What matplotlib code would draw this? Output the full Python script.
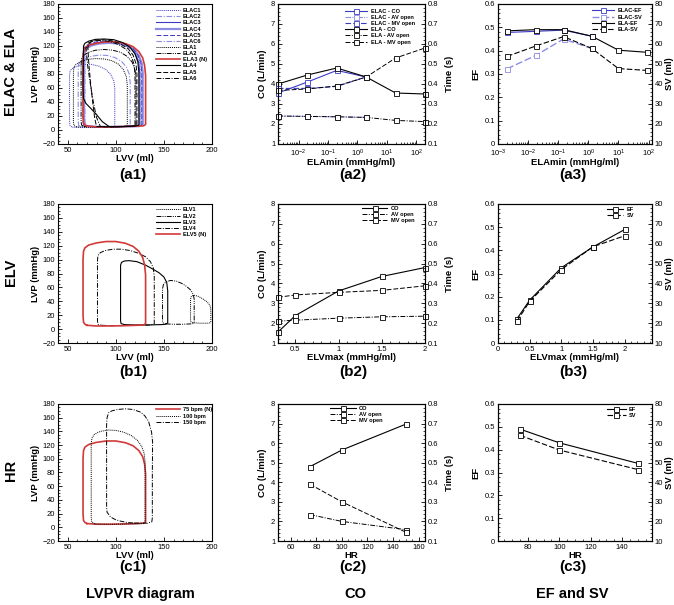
import matplotlib
matplotlib.use("Agg")
import matplotlib.pyplot as plt
from matplotlib.ticker import MultipleLocator, LogLocator, NullFormatter, FuncFormatter

plt.rcParams["font.family"] = ["Liberation Sans", "DejaVu Sans"]
plt.rcParams["mathtext.default"] = "regular"
plt.rcParams["axes.linewidth"] = 0.8
for a in ["xtick", "ytick"]:
    plt.rcParams[a + ".direction"] = "in"
    plt.rcParams[a + ".major.size"] = 3
    plt.rcParams[a + ".minor.size"] = 1.5
    plt.rcParams[a + ".major.width"] = 0.6
    plt.rcParams[a + ".minor.width"] = 0.5
    plt.rcParams[a + ".labelsize"] = 5.5
    plt.rcParams[a + ".major.pad"] = 2

BLUE = "#3a3ac4"
LBLUE = "#8c8ce4"
RED = "#d23a3a"
DOT = (0, (1, 1))
DASH = (0, (5, 2))
DASHDOT = (0, (5, 1.5, 1, 1.5))
DASHDOTDOT = (0, (5, 1.2, 1, 1.2, 1, 1.2))

# ---------------- PV loops (LVV ml, LVP mmHg) ----------------
normal_v = [70, 80, 95, 110, 122, 129, 131, 131, 131, 130, 128, 124, 118, 110, 100, 90, 80, 72, 68, 66.5, 66, 66, 66.5, 68, 70]
normal_p = [5.5, 4.5, 4.5, 5, 5.5, 6, 8, 40, 78, 92, 103, 112, 119, 123.5, 126, 126, 124, 121, 117, 112, 100, 20, 10, 7, 5.5]

elac1_v = [55, 65, 80, 92, 97, 99, 99, 99, 98, 95, 90, 83, 74, 65, 58, 54, 52.5, 52, 52, 52.5, 55]
elac1_p = [4, 3.5, 3.5, 4, 4.5, 6, 30, 60, 70, 79, 86, 91, 94, 93, 90, 87, 84, 78, 12, 6, 4]
elac2_v = [64, 75, 90, 105, 112, 115, 115, 115, 114, 111, 106, 99, 91, 83, 75, 68, 63, 61.5, 61, 61, 61.5, 64]
elac2_p = [4.5, 4, 4, 4.5, 5, 7, 30, 68, 80, 90, 98, 103.5, 106.5, 107, 105.5, 102, 98, 94, 85, 12, 6.5, 4.5]
elac3_v = [71, 80, 95, 110, 121, 125, 125, 125, 124, 121, 116, 108, 99, 90, 81, 74, 69, 67.5, 67, 67, 67.5, 71]
elac3_p = [5.5, 4.5, 4.5, 5, 5.5, 7, 30, 82, 96, 107, 116, 122, 125, 126, 125, 122, 118, 114, 105, 12, 7, 5.5]
elac4_v = [71, 80, 95, 110, 124, 128, 128, 128, 127, 124, 119, 111, 102, 93, 83, 75, 70, 67.5, 67, 67, 67.5, 71]
elac4_p = [5.5, 4.5, 4.5, 5, 5.5, 7, 30, 82, 95, 106, 115, 121, 123.5, 124.5, 123.5, 121, 117, 113, 104, 12, 7, 5.5]
elac5_v = [70, 80, 95, 110, 123, 127, 127, 127, 126, 123, 118, 110, 100, 90, 80, 73, 68, 66.5, 66, 66, 66.5, 70]
elac5_p = [5.5, 4.5, 4.5, 5, 5.5, 7, 30, 82, 96, 107, 116, 122.5, 126, 127, 126, 123, 119, 115, 106, 12, 7, 5.5]
elac6_v = [72, 80, 95, 110, 122, 126, 126, 126, 125, 122, 117, 109, 100, 91, 82, 75, 70, 68.5, 68, 68, 68.5, 72]
elac6_p = [5.5, 4.5, 4.5, 5, 5.5, 7, 30, 82, 96, 107, 116, 122, 125, 126, 125, 122, 118, 114, 105, 12, 7, 5.5]
ela1_v = [59, 70, 85, 100, 109, 112, 112, 112, 111, 108, 103, 96, 88, 79, 71, 64, 59, 56.5, 56, 56, 56.5, 59]
ela1_p = [4.5, 4, 4, 4.5, 5, 7, 30, 64, 76, 86, 94, 99, 101.5, 102, 101, 98, 94, 90, 82, 12, 6.5, 4.5]
ela2_v = [67, 80, 95, 110, 118, 121, 121, 121, 120, 117, 112, 105, 97, 88, 79, 72, 67, 64.5, 64, 64, 64.5, 67]
ela2_p = [5, 4.5, 4.5, 5, 5.5, 7, 30, 72, 86, 97, 105, 111, 114, 115, 114, 111, 107, 103, 94, 12, 7, 5]
ela4_v = [93, 100, 110, 120, 124, 124, 124, 123, 120, 115, 107, 98, 88, 79, 72, 68, 66.5, 66, 66.5, 69, 74, 80, 86, 93]
ela4_p = [5, 4.5, 5, 5.5, 7, 30, 82, 97, 109, 118, 125, 129, 130, 129.5, 127, 124, 120, 60, 45, 38, 31, 22, 12, 5]
ela5_v = [80, 90, 105, 118, 122, 122, 122, 121, 118, 113, 105, 96, 86, 78, 73, 71, 72, 74, 76, 78, 80]
ela5_p = [5, 4.5, 5, 5.5, 7, 30, 80, 95, 107, 116, 123, 127.5, 129, 128, 125, 118, 95, 65, 40, 18, 5]
ela6_v = [84, 95, 108, 117, 120, 120, 120, 119, 116, 111, 103, 94, 84, 76, 71, 69, 71, 74, 77, 80, 84]
ela6_p = [5, 4.5, 5, 5.5, 7, 30, 80, 94, 106, 115, 122, 126.5, 128, 127, 124, 117, 90, 62, 38, 18, 5]

elv1_v = [181, 188, 195, 198, 198.8, 198.8, 198.5, 197.5, 195, 191, 186, 181, 178.5, 177.7, 177.7, 178, 181]
elv1_p = [9, 8.5, 8.5, 9, 11, 25, 31, 35, 39, 43, 47, 49, 47, 43, 14, 10.5, 9]
elv2_v = [152, 160, 170, 178, 180.5, 181.5, 181.5, 181.5, 180.5, 178, 174, 169, 163, 157, 152, 149.5, 148.6, 148.6, 149, 152]
elv2_p = [7.5, 7, 7, 7.5, 8, 10, 30, 43, 50, 56, 61, 65.5, 69, 70, 68, 64, 58, 12, 9, 7.5]
elv3_v = [109, 120, 135, 148, 152, 154, 154, 154, 153, 150, 145, 139, 131, 122, 114, 109, 106, 105, 105, 105.5, 109]
elv3_p = [6.5, 6, 6, 6.5, 7, 9, 30, 55, 67, 75, 81, 86, 92, 97, 98.5, 98, 96, 92, 12, 8, 6.5]
elv4_v = [85, 95, 110, 125, 137, 140, 140, 140, 139, 136, 131, 124, 115, 106, 97, 89, 84, 81.5, 81, 81, 81.5, 85]
elv4_p = [5.5, 5, 5, 5.5, 6, 7.5, 30, 76, 88, 97, 104, 109, 113, 115, 115, 113, 110, 106, 98, 12, 7, 5.5]

hr100_v = [78, 90, 105, 120, 128, 130.5, 130.5, 130.5, 129.5, 127, 122.5, 116, 108, 100, 92, 84, 78, 75.5, 74.5, 74.5, 75, 78]
hr100_p = [5, 4.5, 4.5, 5, 5.5, 7, 40, 95, 108, 118, 127, 134, 139, 141.5, 142, 140, 136, 131, 123, 14, 8, 5]
hr150_v = [119, 133, 137.5, 138, 138, 138.3, 137.2, 134, 130, 126, 118, 110, 102, 96, 92.5, 91, 90.5, 90.5, 91, 94.6, 100, 105, 112, 119]
hr150_p = [6.2, 6, 8, 14, 80, 124, 139, 155, 163, 168, 172, 173, 172, 170, 167, 160, 150, 30, 22, 15, 11, 9, 7, 6.2]

# ---------------- line charts ----------------
ela_x = [0.002, 0.02, 0.2, 2, 20, 200]
elac_x = [0.002, 0.02, 0.2, 2]
ela_co = [4.0, 4.45, 4.8, 4.35, 3.55, 3.5]
ela_av = [0.24, 0.238, 0.236, 0.233, 0.218, 0.212]
ela_mv = [0.368, 0.375, 0.39, 0.435, 0.53, 0.58]
elac_co = [3.55, 4.1, 4.68, 4.35]
elac_av = [0.24, 0.238, 0.236, 0.233]
elac_mv = [0.378, 0.378, 0.388, 0.435]

# (a3) points sit at these positions on its own log axis
ela_x3 = [0.002, 0.018, 0.15, 1.3, 10, 90]
elac_x3 = [0.002, 0.018, 0.15, 1.3]
ela_ef = [0.485, 0.49, 0.49, 0.462, 0.402, 0.393]
ela_sv = [53.8, 59.0, 63.7, 57.8, 47.7, 46.8]
elac_ef = [0.478, 0.483, 0.488, 0.462]
elac_sv = [47.6, 54.3, 62.5, 57.8]

elv_x = [0.3, 0.5, 1, 1.5, 2]
elv_co = [1.55, 2.38, 3.62, 4.35, 4.8]
elv_av = [0.21, 0.215, 0.225, 0.232, 0.235]
elv_mv = [0.33, 0.342, 0.355, 0.365, 0.388]
elv_ef = [0.105, 0.185, 0.325, 0.415, 0.49]
elv_sv = [21, 31, 47, 58.5, 64]

hr_x = [75, 100, 150]
hr_co = [4.8, 5.65, 6.97]
hr_av = [0.235, 0.2, 0.158]
hr_mv = [0.39, 0.30, 0.145]
hr_ef = [0.49, 0.43, 0.34]
hr_sv = [64, 56.5, 46.5]

fig = plt.figure(figsize=(6.74, 6.05), dpi=100)
W, H = 674.0, 605.0
cols = [(58, 212), (278, 425), (498, 652)]
rows = [(4, 144), (204, 343), (404, 541)]

gfmt = FuncFormatter(lambda v, pos: "%g" % round(v, 6))


def make_ax(c, r):
    (x0, x1), (y0, y1) = cols[c], rows[r]
    return fig.add_axes([x0 / W, 1 - y1 / H, (x1 - x0) / W, (y1 - y0) / H])


lab = dict(fontsize=6.8, fontweight="bold")
mk = dict(marker="s", markersize=3.6, markerfacecolor="white", markeredgewidth=0.6, clip_on=False)
leg_kw = dict(frameon=False, labelspacing=0.2, borderpad=0, handletextpad=0.6,
              borderaxespad=0, prop={"weight": "bold", "size": 4.1})


def pv_axes(ax):
    ax.set_xlim(40, 200)
    ax.set_ylim(-20, 180)
    ax.xaxis.set_major_locator(MultipleLocator(50))
    ax.xaxis.set_minor_locator(MultipleLocator(10))
    ax.yaxis.set_major_locator(MultipleLocator(20))
    ax.yaxis.set_minor_locator(MultipleLocator(5))
    ax.set_xlabel("LVV (ml)", labelpad=0, **lab)
    ax.set_ylabel("LVP (mmHg)", labelpad=2, **lab)


# (a1)
ax = make_ax(0, 0)
pv_axes(ax)
loops = [
    (elac1_v, elac1_p, "ELAC1", BLUE, DOT, 0.7),
    (elac2_v, elac2_p, "ELAC2", LBLUE, DASHDOT, 0.8),
    (elac3_v, elac3_p, "ELAC3", BLUE, "-", 0.8),
    (elac4_v, elac4_p, "ELAC4", LBLUE, "-", 1.6),
    (elac5_v, elac5_p, "ELAC5", BLUE, DASH, 0.7),
    (elac6_v, elac6_p, "ELAC6", LBLUE, DASHDOT, 0.8),
    (ela1_v, ela1_p, "ELA1", "black", DOT, 0.7),
    (ela2_v, ela2_p, "ELA2", "black", DASHDOTDOT, 0.7),
    (normal_v, normal_p, "ELA3 (N)", RED, "-", 1.2),
    (ela4_v, ela4_p, "ELA4", "black", "-", 0.8),
    (ela5_v, ela5_p, "ELA5", "black", DASH, 0.7),
    (ela6_v, ela6_p, "ELA6", "black", DASHDOT, 0.7),
]
for v, p, name, col, ls, lw in loops:
    ax.plot(v, p, color=col, ls=ls, lw=lw, label=name)
ax.legend(loc="upper left", bbox_to_anchor=(0.635, 0.97), handlelength=4.2, **leg_kw)

# (b1)
ax = make_ax(0, 1)
pv_axes(ax)
for v, p, name, col, ls, lw in [
    (elv1_v, elv1_p, "ELV1", "black", DOT, 0.7),
    (elv2_v, elv2_p, "ELV2", "black", DASHDOTDOT, 0.7),
    (elv3_v, elv3_p, "ELV3", "black", "-", 0.8),
    (elv4_v, elv4_p, "ELV4", "black", DASHDOT, 0.7),
    (normal_v, normal_p, "ELV5 (N)", RED, "-", 1.2),
]:
    ax.plot(v, p, color=col, ls=ls, lw=lw, label=name)
ax.legend(loc="upper left", bbox_to_anchor=(0.635, 0.975), handlelength=4.2, **leg_kw)

# (c1)
ax = make_ax(0, 2)
pv_axes(ax)
for v, p, name, col, ls, lw in [
    (normal_v, normal_p, "75 bpm (N)", RED, "-", 1.2),
    (hr100_v, hr100_p, "100 bpm", "black", DOT, 0.7),
    (hr150_v, hr150_p, "150 bpm", "black", DASHDOT, 0.7),
]:
    ax.plot(v, p, color=col, ls=ls, lw=lw, label=name)
ax.legend(loc="upper left", bbox_to_anchor=(0.635, 0.975), handlelength=4.2, **leg_kw)


def co_axes(ax):
    ax.set_ylim(1, 8)
    ax.yaxis.set_major_locator(MultipleLocator(1))
    ax.yaxis.set_minor_locator(MultipleLocator(0.2))
    ax.yaxis.set_major_formatter(gfmt)
    ax.set_ylabel("CO (L/min)", labelpad=3, **lab)
    tw = ax.twinx()
    tw.set_ylim(0.1, 0.8)
    tw.yaxis.set_major_locator(MultipleLocator(0.1))
    tw.yaxis.set_minor_locator(MultipleLocator(0.02))
    tw.yaxis.set_major_formatter(gfmt)
    tw.set_ylabel("Time (s)", labelpad=5, **lab)
    return tw


def ef_axes(ax):
    ax.set_ylim(0, 0.6)
    ax.yaxis.set_major_locator(MultipleLocator(0.1))
    ax.yaxis.set_minor_locator(MultipleLocator(0.02))
    ax.yaxis.set_major_formatter(gfmt)
    ax.set_ylabel("EF", labelpad=3, **lab)
    tw = ax.twinx()
    tw.set_ylim(10, 80)
    tw.yaxis.set_major_locator(MultipleLocator(10))
    tw.yaxis.set_minor_locator(MultipleLocator(2))
    tw.set_ylabel("SV (ml)", labelpad=1, **lab)
    return tw


def log_x(ax, lo, hi):
    ax.set_xscale("log")
    ax.set_xlim(lo, hi)
    ax.xaxis.set_major_locator(LogLocator(base=10, numticks=10))
    ax.xaxis.set_minor_locator(LogLocator(base=10, subs=range(2, 10), numticks=20))
    ax.xaxis.set_minor_formatter(NullFormatter())
    ax.tick_params(axis="x", which="major", pad=2.5)
    ax.set_xlabel("ELAmin (mmHg/ml)", labelpad=-0.6, **lab)


def lin_x(ax, lo, hi, major, minor, label):
    ax.set_xlim(lo, hi)
    ax.xaxis.set_major_locator(MultipleLocator(major))
    ax.xaxis.set_minor_locator(MultipleLocator(minor))
    ax.xaxis.set_major_formatter(gfmt)
    ax.set_xlabel(label, labelpad=0, **lab)


# (a2)
ax = make_ax(1, 0)
log_x(ax, 0.002, 200)
tw = co_axes(ax)
h1, = ax.plot(elac_x, elac_co, color=BLUE, ls="-", lw=0.8, **mk)
h2, = tw.plot(elac_x, elac_av, color=LBLUE, ls=DASHDOTDOT, lw=0.8, **mk)
h3, = tw.plot(elac_x, elac_mv, color=BLUE, ls=DASH, lw=0.8, **mk)
h4, = ax.plot(ela_x, ela_co, color="black", ls="-", lw=0.8, **mk)
h5, = tw.plot(ela_x, ela_av, color="black", ls=DASHDOT, lw=0.7, **mk)
h6, = tw.plot(ela_x, ela_mv, color="black", ls=DASH, lw=0.7, **mk)
tw.legend([h1, h2, h3, h4, h5, h6],
          ["ELAC - CO", "ELAC - AV open", "ELAC - MV open", "ELA - CO", "ELA - AV open", "ELA - MV open"],
          loc="upper left", bbox_to_anchor=(0.455, 0.965), handlelength=3.9, **leg_kw)

# (b2)
ax = make_ax(1, 1)
lin_x(ax, 0.3, 2, 0.5, 0.1, "ELVmax (mmHg/ml)")
tw = co_axes(ax)
h1, = ax.plot(elv_x, elv_co, color="black", ls="-", lw=0.8, **mk)
h2, = tw.plot(elv_x, elv_av, color="black", ls=DASHDOT, lw=0.7, **mk)
h3, = tw.plot(elv_x, elv_mv, color="black", ls=DASH, lw=0.7, **mk)
tw.legend([h1, h2, h3], ["CO", "AV open", "MV open"], loc="upper left",
          bbox_to_anchor=(0.57, 0.985), handlelength=4.5, **leg_kw)

# (c2)
ax = make_ax(1, 2)
lin_x(ax, 50, 165, 20, 5, "HR")
tw = co_axes(ax)
h1, = ax.plot(hr_x, hr_co, color="black", ls="-", lw=0.8, **mk)
h2, = tw.plot(hr_x, hr_av, color="black", ls=DASHDOT, lw=0.7, **mk)
h3, = tw.plot(hr_x, hr_mv, color="black", ls=DASH, lw=0.7, **mk)
tw.legend([h1, h2, h3], ["CO", "AV open", "MV open"], loc="upper left",
          bbox_to_anchor=(0.354, 0.985), handlelength=4.5, **leg_kw)

# (a3)
ax = make_ax(2, 0)
log_x(ax, 0.001, 130)
tw = ef_axes(ax)
h1, = ax.plot(elac_x3, elac_ef, color=BLUE, ls="-", lw=0.8, **mk)
h2, = tw.plot(elac_x3, elac_sv, color=LBLUE, ls=DASH, lw=1.0, **mk)
h3, = ax.plot(ela_x3, ela_ef, color="black", ls="-", lw=0.8, **mk)
h4, = tw.plot(ela_x3, ela_sv, color="black", ls=DASH, lw=0.8, **mk)
tw.legend([h1, h2, h3, h4], ["ELAC-EF", "ELAC-SV", "ELA-EF", "ELA-SV"], loc="upper left",
          bbox_to_anchor=(0.608, 0.968), handlelength=3.9, **leg_kw)

# (b3)
ax = make_ax(2, 1)
lin_x(ax, 0, 2.43, 0.5, 0.1, "ELVmax (mmHg/ml)")
tw = ef_axes(ax)
h1, = ax.plot(elv_x, elv_ef, color="black", ls="-", lw=0.8, **mk)
h2, = tw.plot(elv_x, elv_sv, color="black", ls=DASH, lw=0.8, **mk)
tw.legend([h1, h2], ["EF", "SV"], loc="upper left", bbox_to_anchor=(0.706, 0.978),
          handlelength=2.9, **leg_kw)

# (c3)
ax = make_ax(2, 2)
lin_x(ax, 61, 159, 20, 5, "HR")
tw = ef_axes(ax)
h1, = ax.plot(hr_x, hr_ef, color="black", ls="-", lw=0.8, **mk)
h2, = tw.plot(hr_x, hr_sv, color="black", ls=DASH, lw=0.8, **mk)
tw.legend([h1, h2], ["EF", "SV"], loc="upper left", bbox_to_anchor=(0.706, 0.978),
          handlelength=3.3, **leg_kw)

# panel labels
tags = [["(a1)", "(a2)", "(a3)"], ["(b1)", "(b2)", "(b3)"], ["(c1)", "(c2)", "(c3)"]]
tag_y = [175, 372, 567]
tag_x = [133, 353, 573]
for r in range(3):
    for c in range(3):
        fig.text(tag_x[c] / W, 1 - tag_y[r] / H, tags[r][c], ha="center", va="center",
                 fontsize=11, fontweight="bold")

for txt, y in [("ELAC & ELA", 72), ("ELV", 272), ("HR", 470)]:
    fig.text(11 / W, 1 - y / H, txt, rotation=90, ha="center", va="center",
             fontsize=10.5, fontweight="bold")

for txt, x in [("LVPVR diagram", 140), ("CO", 355), ("EF and SV", 572)]:
    fig.text(x / W, 1 - 594 / H, txt, ha="center", va="center", fontsize=10.5, fontweight="bold")

fig.savefig("out.png", dpi=100)
